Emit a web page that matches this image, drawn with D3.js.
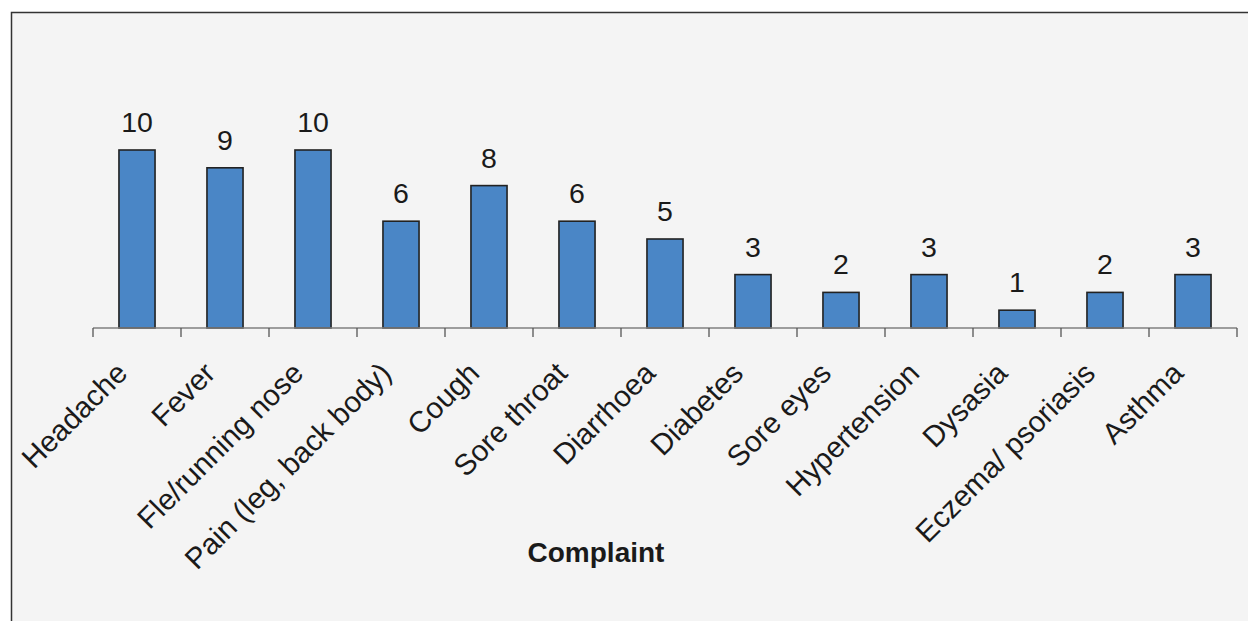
<!DOCTYPE html>
<html>
<head>
<meta charset="utf-8">
<script src="https://cdn.jsdelivr.net/npm/d3@7"></script>
<style>
  html, body { margin: 0; padding: 0; background: #ffffff; }
  svg { display: block; font-family: Arial, "Liberation Sans", sans-serif; }
</style>
</head>
<body>
<svg id="chart" width="1248" height="621"></svg>
<script>
const categories = ["Headache", "Fever", "Fle/running nose", "Pain (leg, back body)", "Cough",
  "Sore throat", "Diarrhoea", "Diabetes", "Sore eyes", "Hypertension", "Dysasia",
  "Eczema/ psoriasis", "Asthma"];
const values = [10, 9, 10, 6, 8, 6, 5, 3, 2, 3, 1, 2, 3];
const xAxisTitle = "Complaint";

const svg = d3.select("#chart");

// chart background panel with border (extends beyond right/bottom edges)
svg.append("rect")
  .attr("x", 11.5).attr("y", 12.5)
  .attr("width", 1260).attr("height", 640)
  .attr("fill", "#f4f4f4")
  .attr("stroke", "#333333").attr("stroke-width", 1.5);

const x = d3.scaleBand()
  .domain(categories)
  .range([93, 1237])
  .paddingInner(0.59)
  .paddingOuter(0.295);

const y = d3.scaleLinear()
  .domain([0, 10])
  .range([328, 150]);

const step = x.step();
const bw = x.bandwidth();

// bars
svg.append("g").selectAll("rect")
  .data(values)
  .join("rect")
  .attr("x", (d, i) => x(categories[i]))
  .attr("y", d => y(d))
  .attr("width", bw)
  .attr("height", d => y(0) - y(d))
  .attr("fill", "#4a86c6")
  .attr("stroke", "#222222")
  .attr("stroke-width", 1.6);

// axis line
svg.append("line")
  .attr("x1", x.range()[0]).attr("x2", x.range()[1])
  .attr("y1", y(0)).attr("y2", y(0))
  .attr("stroke", "#808080").attr("stroke-width", 1.3);

// tick marks at category boundaries
const tickXs = categories.map(c => x(c) + bw / 2 - step / 2).concat([x.range()[1]]);
svg.append("g").selectAll("line")
  .data(tickXs)
  .join("line")
  .attr("x1", d => d).attr("x2", d => d)
  .attr("y1", y(0)).attr("y2", y(0) + 9)
  .attr("stroke", "#555555").attr("stroke-width", 1.3);

// value labels
svg.append("g").selectAll("text")
  .data(values)
  .join("text")
  .attr("x", (d, i) => x(categories[i]) + bw / 2)
  .attr("y", d => y(d) - 18)
  .attr("text-anchor", "middle")
  .attr("font-size", 28.5)
  .attr("fill", "#1a1a1a")
  .text(d => d);

// rotated category labels
svg.append("g").selectAll("text")
  .data(categories)
  .join("text")
  .attr("transform", c => `translate(${x(c) + bw / 2 - 8},375) rotate(-45)`)
  .attr("text-anchor", "end")
  .attr("font-size", 29.5)
  .attr("fill", "#1a1a1a")
  .text(c => c);

// axis title
svg.append("text")
  .attr("x", 596).attr("y", 562)
  .attr("text-anchor", "middle")
  .attr("font-size", 28)
  .attr("font-weight", "bold")
  .attr("fill", "#1a1a1a")
  .text(xAxisTitle);
</script>
</body>
</html>
